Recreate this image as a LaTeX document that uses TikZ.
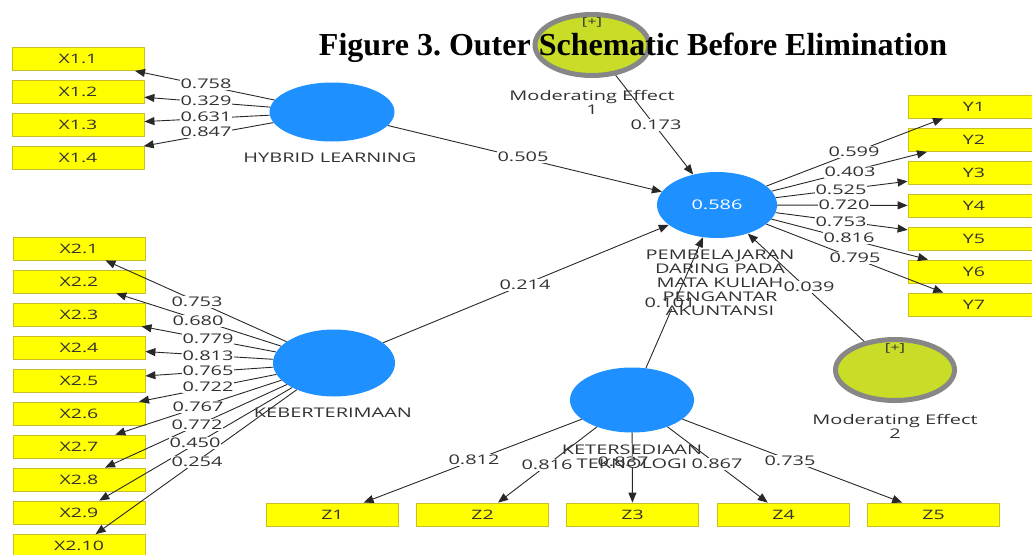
\documentclass[tikz,border=0pt]{standalone}
\usepackage{fontspec}
\setmainfont{Liberation Serif}
\newfontfamily\pls[FakeStretch=1.5]{Open Sans}
\usetikzlibrary{arrows.meta,shapes.geometric}
\definecolor{plsblue}{RGB}{30,144,255}
\definecolor{plsyellow}{RGB}{255,255,0}
\definecolor{plsborder}{RGB}{200,190,40}
\definecolor{modfill}{RGB}{200,220,40}
\definecolor{modring}{RGB}{135,135,135}
\definecolor{plstext}{RGB}{50,50,50}
\definecolor{plsline}{RGB}{40,40,40}
\tikzset{
  ind/.style={rectangle, draw=plsborder, fill=plsyellow, minimum width=132pt, minimum height=23pt,
    inner sep=0pt, line width=0.8pt, text=plstext, font=\pls\fontsize{13}{13}\selectfont},
  lat/.style={ellipse, fill=plsblue, inner sep=0pt},
  mod/.style={ellipse, fill=modfill, draw=modring, line width=5pt, inner sep=0pt},
  conn/.style={draw=plsline, line width=0.9pt, -{Triangle[length=10pt,width=8pt]}},
  lbl/.style={fill=white, inner sep=0.8pt, text=plstext, font=\pls\fontsize{13.3}{13.3}\selectfont},
  lvname/.style={text=plstext, align=center, inner sep=0pt, font=\pls\fontsize{13.3}{14}\selectfont},
  plus/.style={text=plstext, inner sep=0pt, font=\pls\fontsize{11}{11}\selectfont},
}
\begin{document}
\frenchspacing
\begin{tikzpicture}[x=1pt,y=-1pt]
\useasboundingbox (0,0) rectangle (1032,554);
\clip (0,0) rectangle (1032,554);
% latent variables
\node[lat, minimum width=125pt, minimum height=59pt] (HL) at (332,112) {};
\node[lat, minimum width=120pt, minimum height=66pt, text=white, font=\pls\fontsize{13.3}{13.3}\selectfont] (PD) at (717,205) {0.586};
\node[lat, minimum width=122pt, minimum height=67pt] (KB) at (334,363) {};
\node[lat, minimum width=124pt, minimum height=65pt] (KT) at (632,400) {};
\node[mod, minimum width=114pt, minimum height=61pt] (ME1) at (592,45) {};
\node[mod, minimum width=119pt, minimum height=61pt] (ME2) at (895,370) {};
\node[plus] (P1) at (592,22) {[+]};
\node[plus] (P2) at (895,348) {[+]};
% indicators
\foreach \i/\y in {1/59,2/92,3/125,4/158}{
  \node[ind] (X1\i) at (78,\y) {X1.\i};
}
\foreach \i/\y in {1/248.5,2/281.5,3/314.5,4/347.5,5/380.5,6/413.5,7/446.5,8/479.5,9/512.5,10/546}{
  \node[ind] (X2\i) at (79,\y) {X2.\i};
}
\foreach \i/\y in {1/106.5,2/140,3/173,4/205.5,5/238.5,6/271.5,7/304.5}{
  \node[ind] (Y\i) at (974,\y) {Y\i};
}
\foreach \i/\x in {1/332.5,2/482.5,3/632.5,4/783.5,5/933.5}{
  \node[ind] (Z\i) at (\x,514.5) {Z\i};
}
% connectors
\foreach \i in {1,...,4}{ \draw[conn] (HL) -- (X1\i); }
\foreach \i in {1,...,10}{ \draw[conn] (KB) -- (X2\i); }
\foreach \i in {1,...,7}{ \draw[conn] (PD) -- (Y\i); }
\foreach \i in {1,...,5}{ \draw[conn] (KT) -- (Z\i); }
\draw[conn] (HL) -- (PD);
\draw[conn] (KB) -- (PD);
\draw[conn] (KT) -- (PD);
\draw[conn] (ME1) -- (PD);
\draw[conn] (ME2) -- (PD);
% edge labels
\node[lbl] (l11) at (206,84) {0.758};
\node[lbl] (l12) at (206,101) {0.329};
\node[lbl] (l13) at (206,117) {0.631};
\node[lbl] (l14) at (206,132) {0.847};
\node[lbl] (l21) at (197,302) {0.753};
\node[lbl] (l22) at (198,321) {0.680};
\node[lbl] (l23) at (208,339) {0.779};
\node[lbl] (l24) at (208,356) {0.813};
\node[lbl] (l25) at (208,371) {0.765};
\node[lbl] (l26) at (208,387) {0.722};
\node[lbl] (l27) at (198,407) {0.767};
\node[lbl] (l28) at (197,425) {0.772};
\node[lbl] (l29) at (195,443) {0.450};
\node[lbl] (l210) at (197,462) {0.254};
\node[lbl] (ly1) at (854,152) {0.599};
\node[lbl] (ly2) at (850,172) {0.403};
\node[lbl] (ly3) at (841,190) {0.525};
\node[lbl] (ly4) at (844,205) {0.720};
\node[lbl] (ly5) at (841,222) {0.753};
\node[lbl] (ly6) at (849,238) {0.816};
\node[lbl] (ly7) at (855,258) {0.795};
\node[lbl] (lz1) at (474,460) {0.812};
\node[lbl] (lz2) at (547,465) {0.816};
\node[lbl] (lz3) at (623,462) {0.837};
\node[lbl] (lz4) at (717,464) {0.867};
\node[lbl] (lz5) at (790,461) {0.735};
\node[lbl] (lhl) at (523,157) {0.505};
\node[lbl] (lkb) at (525,285) {0.214};
\node[lbl] (lkt) at (670,303) {0.101};
\node[lbl] (lm1) at (656,125) {0.173};
\node[lbl] (lm2) at (809,287) {0.039};
% latent names
\node[lvname] (nHL) at (330,158) {HYBRID LEARNING};
\node[lvname] (nKB) at (333,413) {KEBERTERIMAAN};
\node[lvname] (nKT) at (632,457) {KETERSEDIAAN\\TEKNOLOGI};
\node[lvname] (nPD) at (720,283) {PEMBELAJARAN\\DARING PADA\\MATA KULIAH\\PENGANTAR\\AKUNTANSI};
\node[lvname] (nM1) at (592,102) {Moderating Effect\\1};
\node[lvname] (nM2) at (895,426) {Moderating Effect\\2};
% title
\node[anchor=base, inner sep=0pt, font=\bfseries\fontsize{32}{32}\selectfont] (title) at (633,55) {Figure 3. Outer Schematic Before Elimination};
\end{tikzpicture}
\end{document}
